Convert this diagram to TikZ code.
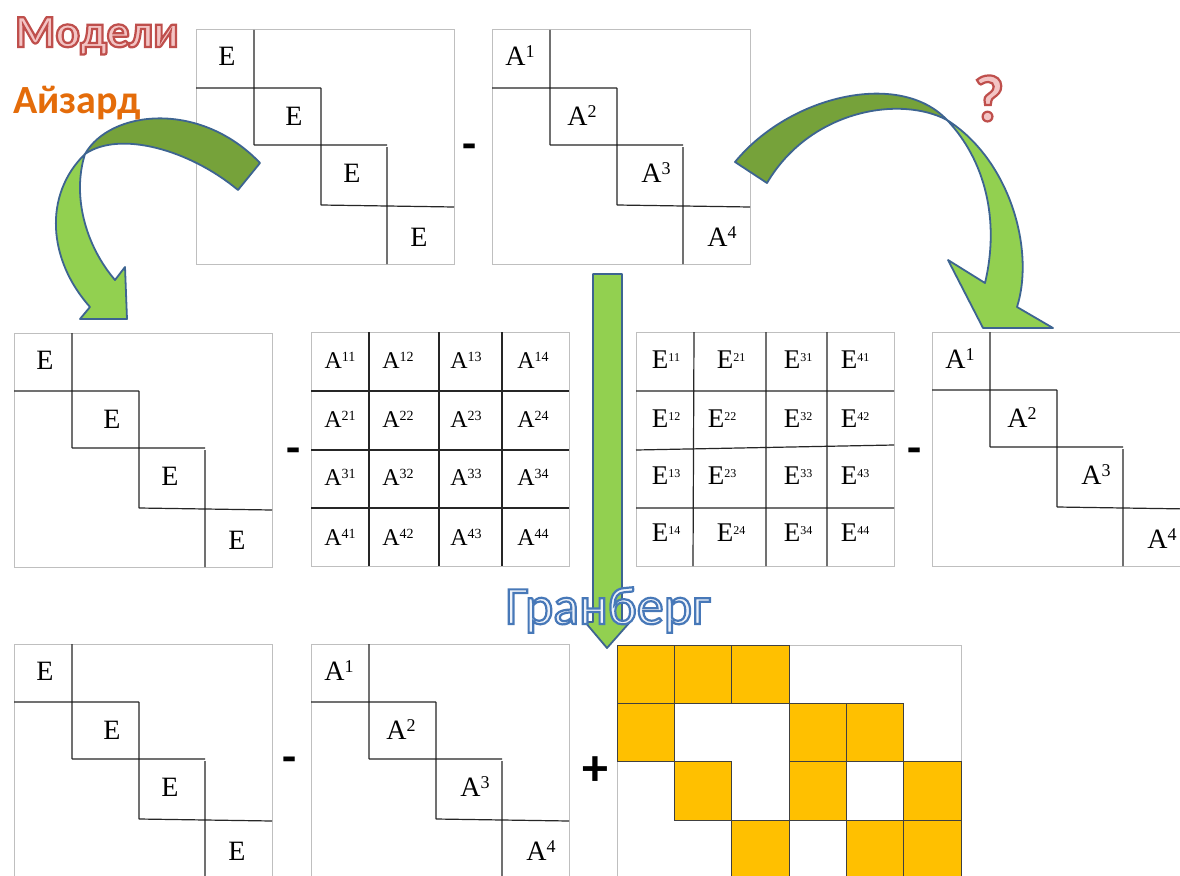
\documentclass[tikz,border=0pt]{standalone}
\usepackage{fontspec}
\setmainfont{Liberation Serif}
\newfontfamily\lblfont{Carlito}
\definecolor{boxgray}{HTML}{BFBFBF}
\definecolor{gdark}{HTML}{76A23A}
\definecolor{glight}{HTML}{92D050}
\definecolor{gline}{HTML}{3D6491}
\definecolor{cellorange}{HTML}{FFC000}
\definecolor{redfill}{HTML}{F3C4C4}
\definecolor{orangetxt}{HTML}{E46C0A}
\definecolor{bluefill}{HTML}{EEF3FA}
\newcommand\supr[1]{\raisebox{8pt}{\fontsize{18}{18}\selectfont #1}}
\newcommand\gsupA[1]{\raisebox{6.5pt}{\fontsize{14}{14}\selectfont #1}}
\newcommand\gsupE[1]{\raisebox{7pt}{\fontsize{12}{12}\selectfont #1}}
\newcommand\outl[2]{\special{pdf:literal direct #1}#2\special{pdf:literal direct 0 Tr}}
\tikzset{
 outer/.style={draw=boxgray, line width=1pt},
 inner/.style={draw=black!85, line width=1.2pt},
 dent/.style={anchor=base, inner sep=0pt, font=\fontsize{28}{30}\selectfont},
 gA/.style={anchor=base, inner sep=0pt, font=\fontsize{24}{26}\selectfont},
 gE/.style={anchor=base, inner sep=0pt, font=\fontsize{27}{29}\selectfont},
 band/.style={draw=gline, line width=1.8pt, line join=round},
 opsign/.style={anchor=base, inner sep=0pt, font=\lblfont\bfseries\fontsize{46}{46}\selectfont},
 ocell/.style={fill=cellorange, draw=black!75, line width=0.8pt},
}
\newcommand\dmatrix[3]{%
 \begin{scope}[shift={#2}]
 \draw[outer] (0,0) rectangle (258,234);
 \draw[inner] (58,0)--(58,115) (0,58)--(125,58) (125,58)--(125,175) (58,115)--(191,115) (191,117)--(191,234) (125,175)--(258,177);
 \ifnum#3=0
 \node[dent] (#1a) at (31,36) {E};
 \node[dent] (#1b) at (98,95) {E};
 \node[dent] (#1c) at (156,152) {E};
 \node[dent] (#1d) at (223,216) {E};
 \else
 \node[dent] (#1a) at (28,36) {A\supr{1}};
 \node[dent] (#1b) at (90,95) {A\supr{2}};
 \node[dent] (#1c) at (164,152) {A\supr{3}};
 \node[dent] (#1d) at (230,216) {A\supr{4}};
 \fi
 \end{scope}}
\begin{document}
\begin{tikzpicture}[x=1pt,y=-1pt]
\useasboundingbox (0,0) rectangle (1180,875);
\clip (0,0) rectangle (1180,875);
\fill[white] (0,0) rectangle (1180,875);
% diagonal block matrices
\dmatrix{te}{(196,30)}{0}
\dmatrix{ta}{(492,30)}{1}
\dmatrix{me}{(14,333)}{0}
\dmatrix{ma}{(932,332)}{1}
\dmatrix{be}{(14,644)}{0}
\dmatrix{ba}{(311,644)}{1}
% A grid
\draw[outer] (311,332) rectangle (569,566);
\draw[inner] (369,332)--(369,566) (439,332)--(439,566) (502,332)--(502,566)
  (311,391)--(569,391) (311,450)--(569,450) (311,508)--(569,508);
\foreach \r/\y in {1/368,2/427,3/485,4/545}
  \foreach \c/\x in {1/340,2/398,3/466,4/533}
    \node[gA] (A\r\c) at (\x,\y) {A\gsupA{\r\c}};
% E grid
\draw[outer] (636,332) rectangle (894,566);
\draw[inner] (694,332)--(693,566) (766,332)--(766,566) (827,332)--(827,566)
  (636,391)--(894,391) (636,450)--(894,445) (636,508)--(894,508);
\foreach \r/\y/\xb in {1/368/731,2/427/722,3/484/722,4/541/731}
  \foreach \c/\x in {1/666,2/\xb,3/798,4/855}
    \node[gE] (E\c\r) at (\x,\y) {E\gsupE{\c\r}};
% orange grid
\draw[outer] (617,645) rectangle (961,880);
\foreach \r/\c in {0/0,0/1,0/2,1/0,1/3,1/4,2/1,2/3,2/5,3/2,3/4,3/5}
  \draw[ocell] ({617+57.33*\c},{645+58.3*\r}) rectangle ++(57.33,58.3);
% left curved arrow
\draw[band, fill=gdark] (85,154) .. controls (110,110) and (200,100) .. (260,163)
  -- (238,190) .. controls (190,150) and (120,130) .. (85,154) -- cycle;
\draw[band, fill=glight] (85,154) .. controls (43,195) and (48,260) .. (90,307)
  -- (80,319) -- (127,319) -- (125,267) -- (115,280)
  .. controls (85,245) and (72,195) .. (85,154) -- cycle;
% right curved arrow
\draw[band, fill=gdark] (735,162) .. controls (790,95) and (900,70) .. (947,120)
  .. controls (900,95) and (810,110) .. (767,183) -- cycle;
\draw[band, fill=glight] (947,120) .. controls (1010,160) and (1035,250) .. (1017,307)
  -- (1053,328) -- (983,328) -- (948,260) -- (985,283)
  .. controls (1000,220) and (985,160) .. (947,120) -- cycle;
% vertical arrow
\draw[band, fill=glight] (593,274) -- (622,274) -- (622,622) -- (630,622) -- (607,648)
  -- (585,622) -- (593,622) -- cycle;
% operator signs
\node[opsign] (m1) at (470,159) {-};
\node[opsign] (m2) at (294,463) {-};
\node[opsign] (m3) at (915,463) {-};
\node[opsign] (m4) at (290,772) {-};
\node[anchor=base, inner sep=0pt, font=\lblfont\bfseries\fontsize{52}{52}\selectfont] (plus) at (595,785) {+};
% titles
\node[anchor=base west, inner sep=0pt, font=\lblfont\bfseries\fontsize{46}{46}\selectfont, text=redfill] (modeli) at (15,47) {\outl{2 Tr 2.2 w 0.75 0.31 0.30 RG}{Модели}};
\node[anchor=base west, inner sep=0pt, font=\lblfont\bfseries\fontsize{40}{40}\selectfont, text=orangetxt] (aizard) at (13,113) {Айзард};
\node[anchor=base, inner sep=0pt, font=\lblfont\fontsize{54}{54}\selectfont, text=bluefill] (granberg) at (608,624) {\outl{2 Tr 2.2 w 0.28 0.47 0.72 RG}{Гранберг}};
\node[anchor=base, inner sep=0pt, font=\lblfont\bfseries\fontsize{66}{66}\selectfont, text=redfill] (qmark) at (989,121) {\outl{2 Tr 2.2 w 0.75 0.31 0.30 RG}{?}};
\end{tikzpicture}
\end{document}
